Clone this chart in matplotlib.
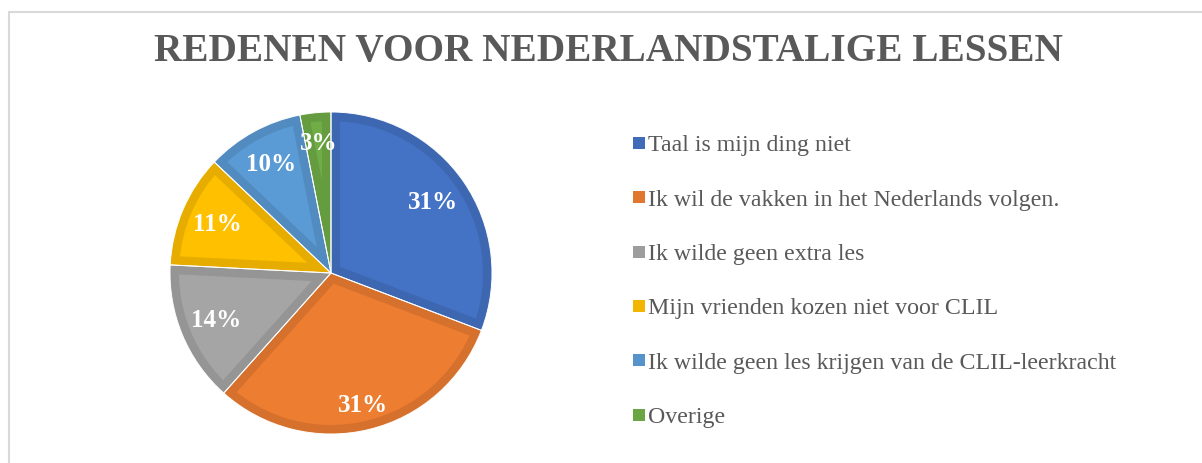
import matplotlib
matplotlib.use("Agg")
import matplotlib.pyplot as plt
from matplotlib.lines import Line2D
from matplotlib.patches import Rectangle, Wedge
import matplotlib.colors as mcolors

# data
labels = ["Taal is mijn ding niet",
          "Ik wil de vakken in het Nederlands volgen.",
          "Ik wilde geen extra les",
          "Mijn vrienden kozen niet voor CLIL",
          "Ik wilde geen les krijgen van de CLIL-leerkracht",
          "Overige"]
shares = [30.8, 30.8, 14.2, 11.3, 9.8, 3.1]
colors = ["#4472C4", "#ED7D31", "#A5A5A5", "#FFC000", "#5B9BD5", "#70AD47"]
title = "REDENEN VOOR NEDERLANDSTALIGE LESSEN"

plt.rcParams['font.family'] = ['Liberation Serif', 'DejaVu Serif']


def darker(c, f=0.9):
    r, g, b = mcolors.to_rgb(c)
    return (r * f, g * f, b * f)


fig = plt.figure(figsize=(12.02, 4.63), dpi=100)

# light frame on top and left
fig.add_artist(Rectangle((8.5 / 1202, -0.1), 1.2, 1.1 - 12 / 463,
                         transform=fig.transFigure, fill=False,
                         edgecolor="#D9D9D9", linewidth=1.5))

fig.text(608 / 1202, 1 - 52 / 463, title, ha="center", va="center",
         fontsize=28.3, fontweight="bold", color="#595959")

# pie axes: center (331, 273), radius ~161 px
r_px = 161
cx, cy = 331, 273
ax = fig.add_axes([(cx - r_px) / 1202, 1 - (cy + r_px) / 463,
                   2 * r_px / 1202, 2 * r_px / 463])
wedges, texts, autotexts = ax.pie(
    shares, colors=colors, startangle=90, counterclock=False,
    autopct="%.0f%%", pctdistance=0.77, radius=1.0,
    textprops=dict(color="white", fontsize=18, fontweight="bold"))
ax.set_xlim(-1, 1)
ax.set_ylim(-1, 1)
ax.set_aspect("equal")

# excel-like inner border
for w, c in zip(wedges, colors):
    w.set_edgecolor(darker(c))
    w.set_linewidth(13)
    w.set_clip_on(True)
    w.set_clip_path(w)
    ax.add_patch(Wedge(w.center, w.r, w.theta1, w.theta2,
                       facecolor="none", edgecolor="white",
                       linewidth=0.7, zorder=w.get_zorder() + 0.1))
for t in autotexts:
    t.set_zorder(5)

# nudge some labels like the original
x, y = autotexts[1].get_position()
autotexts[1].set_position((x * 1.1, y * 1.1))
x, y = autotexts[5].get_position()
autotexts[5].set_position((x * 1.05, y * 1.05))

handles = [Line2D([], [], marker="s", linestyle="none", markersize=8.5,
                  markerfacecolor=darker(c, 0.95), markeredgewidth=0)
           for c in colors]
fig.legend(handles, labels, loc="upper left",
           bbox_to_anchor=(623 / 1202, 1 - 125 / 463), frameon=False,
           fontsize=17.2, labelcolor="#595959", handlelength=0.55,
           handletextpad=0.1, labelspacing=1.365, borderaxespad=0)

fig.savefig("out.png", dpi=100, facecolor="white")
